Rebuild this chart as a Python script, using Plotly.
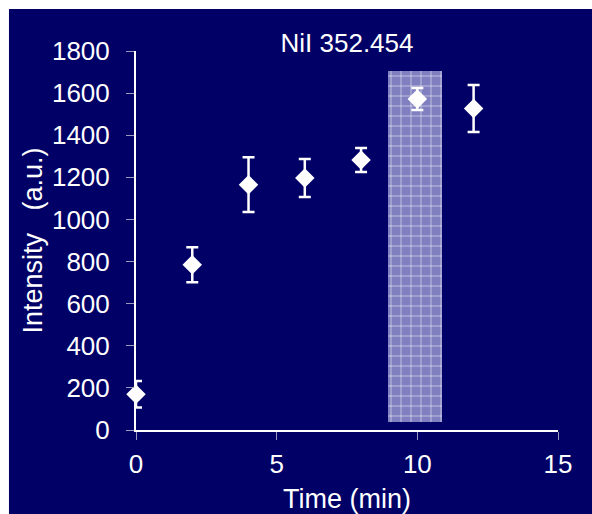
import plotly.graph_objects as go

time_min = [0, 2, 4, 6, 8, 10, 12]
intensity = [170, 785, 1165, 1197, 1282, 1572, 1527]
err = [63, 83, 130, 90, 57, 52, 112]

shade_x = [9.92]
shade_width = [1.92]
shade_base = [38]
shade_height = [1667]

NAVY = "#000066"
FONT = "Liberation Sans, Arial, sans-serif"

fig = go.Figure()

fig.add_trace(go.Bar(
    x=shade_x, y=shade_height, base=shade_base, width=shade_width,
    marker=dict(color="#8080c0", line=dict(width=0),
                pattern=dict(shape="+", fgcolor="white", bgcolor="#8080c0",
                             size=10, solidity=0.1, fillmode="replace")),
    showlegend=False, hoverinfo="skip",
))

fig.add_trace(go.Scatter(
    x=time_min, y=intensity, mode="markers",
    marker=dict(symbol="diamond", size=15, color="white", line=dict(width=0)),
    error_y=dict(type="data", array=err, visible=True, color="white",
                 thickness=2.5, width=6),
    cliponaxis=False, showlegend=False,
))

fig.add_shape(type="rect", xref="paper", yref="paper",
              x0=-0.301, x1=1.2, y0=-0.4, y1=1.1108,
              fillcolor=NAVY, line=dict(width=0), layer="below")

fig.update_layout(
    width=592, height=514,
    margin=dict(l=136, r=34, t=51, b=84),
    paper_bgcolor="white", plot_bgcolor=NAVY,
    font=dict(family=FONT, size=26, color="white"),
    title=dict(text="NiI 352.454", x=(347 - 136) / 422, xref="paper", xanchor="center",
               y=1 - 43 / 514, yanchor="middle", automargin=False,
               font=dict(family=FONT, size=26, color="white")),
    bargap=0,
    xaxis=dict(range=[0, 15], dtick=5, tick0=0, showgrid=False, zeroline=False,
               showline=True, linecolor="white", linewidth=2, automargin=False,
               ticks="outside", ticklen=8, tickwidth=1, tickcolor="#9a9ac0",
               ticklabelstandoff=2,
               title=dict(text="Time (min)", font=dict(size=27), standoff=20)),
    yaxis=dict(range=[0, 1800], dtick=200, tick0=0, showgrid=False, zeroline=False,
               showline=True, linecolor="white", linewidth=2, automargin=False,
               ticks="outside", ticklen=8, tickwidth=1, tickcolor="#9a9ac0",
               ticklabelstandoff=11,
               title=dict(text="Intensity   (a.u.)", font=dict(size=27), standoff=2)),
)

fig.write_html("out.html")
